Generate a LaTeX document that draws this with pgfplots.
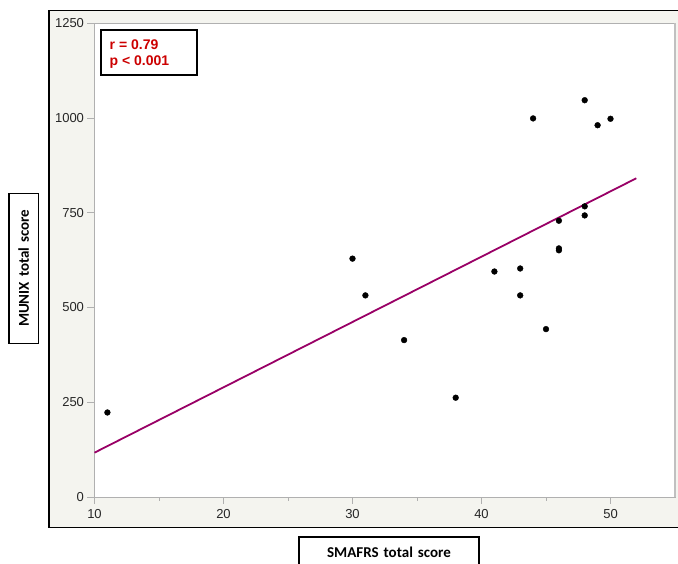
\documentclass[border=0pt]{standalone}
\usepackage{pgfplots}
\pgfplotsset{compat=1.18}
\usepackage{fontspec}
\setmainfont{Liberation Sans}
\newfontfamily\calibri{Carlito}
\definecolor{bgc}{HTML}{F4F4EF}
\definecolor{axc}{HTML}{B0B0B0}
\definecolor{linec}{HTML}{990066}
\definecolor{txtred}{HTML}{CC0000}
\pgfplotstableread{
x y
11 223
30 629
31 532
34 414
38 262
41 595
43 603
43 532
44 999
45 443
46 729
46 651
46 656
48 1047
48 767
48 743
49 981
50 998
}\pts
\begin{document}
\begin{tikzpicture}
\begin{scope}[x=1pt,y=1pt]
\fill[bgc] (49,36.3) rectangle (700,553.3);
\draw[black, line width=1.2pt] (700,36.3) -- (49,36.3) -- (49,553.3) -- (700,553.3);
\end{scope}
\begin{axis}[
  at={(94.5pt,67pt)}, anchor=south west, scale only axis,
  width=580.5pt, height=473.7pt,
  xmin=10, xmax=55, ymin=0, ymax=1250,
  axis background/.style={fill=white},
  axis line style={draw=axc, line width=0.8pt},
  xtick={10,20,30,40,50}, ytick={0,250,500,750,1000,1250},
  minor x tick num=1,
  tick align=outside, xtick pos=bottom, ytick pos=left,
  major tick length=7pt, minor tick length=4pt,
  tick style={draw=axc, line width=0.8pt},
  tick label style={font=\fontsize{13}{15}\selectfont, text=black!85},
  xticklabel style={yshift=-2pt},
  /pgf/number format/assume math mode=true,
  /pgf/number format/1000 sep={},
  clip=false,
]
\addplot[only marks, mark=*, mark size=2.9pt, black] table[x=x,y=y] {\pts};
\addplot[linec, line width=1.8pt] coordinates {(10,117) (52,841)};
\end{axis}
\begin{scope}[x=1pt,y=1pt]
\draw[draw=axc!80, line width=2pt] (675,67) -- (675,540.7);
% stats box
\draw[black, line width=1.4pt, fill=white] (101,489) rectangle (197,534);
\node[anchor=base west, inner sep=0pt, text=txtred, font=\fontsize{14}{16}\selectfont\bfseries] at (109.5,514.7) {r = 0.79};
\node[anchor=base west, inner sep=0pt, text=txtred, font=\fontsize{14}{16}\selectfont\bfseries] at (109.5,498) {p < 0.001};
% axis labels
\draw[black, line width=1.2pt, fill=white] (9,220.7) rectangle (38.3,370.7);
\node[rotate=90, font=\calibri\fontsize{15}{17}\selectfont\bfseries] at (23.7,295.7) {MUNIX\hspace{5pt}total\hspace{5pt}score};
\draw[black, line width=1.2pt, fill=white] (299,-4) rectangle (479,27);
\node[font=\calibri\fontsize{15}{17}\selectfont\bfseries] at (389,12) {SMAFRS\hspace{5pt}total\hspace{5pt}score};
\pgfresetboundingbox
\useasboundingbox (0,0) rectangle (678,564);
\end{scope}
\end{tikzpicture}
\end{document}
